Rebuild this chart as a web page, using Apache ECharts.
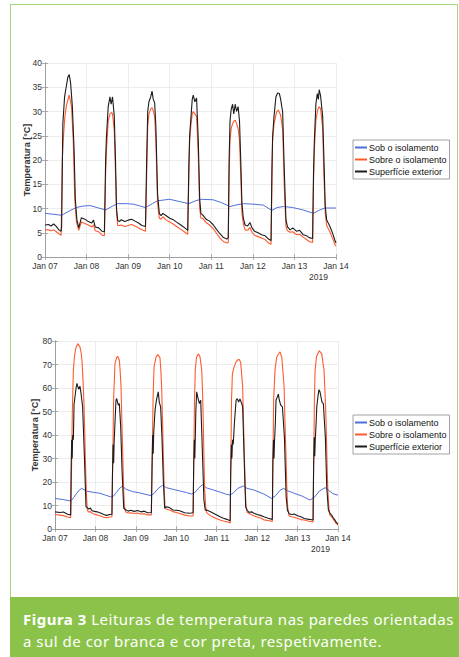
<!DOCTYPE html>
<html>
<head>
<meta charset="utf-8">
<script src="https://cdn.jsdelivr.net/npm/echarts@6/dist/echarts.min.js"></script>
<style>
  body { margin: 0; background: #fff; width: 459px; height: 657px; overflow: hidden; }
  #frame { position: absolute; left: 10px; top: 4px; width: 446px; height: 593px; border: 1.5px solid #a6d67a; border-bottom: none; }
  #chart { position: absolute; left: 0; top: 0; width: 459px; height: 657px; }
  #caption { position: absolute; left: 10px; top: 597px; width: 449px; height: 60px; background: #8bc34a; color: #fff;
             font-family: "Noto Sans", sans-serif; font-size: 15px; letter-spacing: 0.5px; line-height: 22px;
             padding: 11px 0 0 13px; box-sizing: border-box; white-space: nowrap; }
  #caption b { font-weight: 700; }
</style>
</head>
<body>
<div id="frame"></div>
<div id="chart"></div>
<div id="caption"><b>Figura 3</b> Leituras de temperatura nas paredes orientadas<br>a sul de cor branca e cor preta, respetivamente.</div>
<script>
// hours since Jan 07 00:00
var dayLabels = ['Jan 07', 'Jan 08', 'Jan 09', 'Jan 10', 'Jan 11', 'Jan 12', 'Jan 13', 'Jan 14'];
var yearLabel = '2019';
var seriesNames = ['Sob o isolamento', 'Sobre o isolamento', 'Superfície exterior'];

// parede branca (top)
var whiteSob = [[0,9.0],[5,8.8],[9.6,8.6],[13,9.3],[18,10.2],[22,10.5],[26,10.6],[31,10.1],[35,9.7],[39,10.5],[42,11.0],[47,11.0],
  [51,10.9],[55,10.5],[58,10.2],[62,11.0],[65,11.6],[72,11.9],[78,11.4],[83,11.0],[87,11.6],[90,11.9],[97,11.8],[102,11.2],
  [106.8,10.4],[110,10.7],[114.5,11.0],[120,10.9],[126,10.7],[131,9.6],[134,10.2],[137.6,10.4],[143,10.2],[149,9.7],[155,9.0],
  [158,9.6],[161.6,10.1],[168,10.1]];
var whiteSobre = [[0,5.6],[2,5.6],[3.5,5.4],[5,5.6],[6.5,5.2],[8,4.8],[9.3,4.5],
  [10,20],[10.5,24],[11.5,29],[12.4,31.3],[14,33.4],[15.3,31],[16.3,24],[17.2,11.8],[18.2,7.1],
  [19.5,5.5],[21,7.2],[23,6.9],[25,6.6],[27,6.2],[28,6.6],[29,5.4],[31,5.2],[33,4.5],[34.3,4.4],
  [35,17],[35.5,22],[36.5,28],[37.5,29.5],[38.5,29.8],[39,29.5],[40,26],[40.7,17],[41.3,9],[42,6.5],
  [43,6.5],[44,6.6],[46,6.3],[48,6.5],[50,6.7],[52,6.4],[54,6.0],[56,5.6],[58,5.3],
  [58.7,17],[59.3,27],[60,29.5],[61,30.5],[61.8,30.8],[62.5,30.2],[63.3,29],[64,24],[65,11],[66,8],
  [67,7.8],[68,8.3],[70,7.6],[72,7.2],[74,6.8],[76,6.3],[78,5.8],[80,5.3],[82.4,4.7],
  [83,16],[83.5,24],[84.3,27.5],[85,29.5],[85.6,30],[86.5,29.5],[87.5,29],[88.5,21],[89.3,10],[90,8.0],
  [91,8.0],[93,7.1],[95,6.6],[97,5.9],[99,4.9],[101,3.9],[103,3.2],[105,2.9],[105.8,3.0],
  [106.3,17],[106.8,24],[107.5,26.5],[108.3,27.5],[109,28],[109.8,28.2],[110.6,27.5],[111.5,26.5],[112.3,24],[113,17],[113.7,9],[114.5,6.8],
  [115.5,5.6],[117,5.5],[118.3,6.1],[119.5,5.1],[121,4.5],[123,4.2],[125,3.9],[127,3.6],[129,2.9],[130.5,2.6],
  [131,15],[131.4,24],[132.2,27.4],[133.7,29.9],[134.7,30.3],[136,29.3],[137.2,26.3],[138.2,13.8],[139.1,6.3],
  [140,5.4],[141.5,5.1],[143,5.2],[145.3,4.6],[147,4.7],[149,4.1],[151,3.6],[152.5,3.2],[154.5,3.0],
  [155,15],[155.5,22],[156.4,28.2],[157.4,30.3],[158.3,31.0],[159.1,30.6],[160.3,26.6],[161,17],[161.8,9],[162.6,6.5],
  [163.5,5.9],[164.5,5.2],[165.5,4.3],[166.4,3.5],[167.3,2.7],[168,2.2]];
var whiteExt = [[0,6.6],[2,6.7],[3.5,6.4],[5,6.8],[6.5,6.3],[8,5.6],[9.3,5.3],
  [9.6,6.3],[10.3,27.5],[11.3,33],[12.2,35],[13.2,37.1],[14,37.6],[14.8,35.8],[15.8,31],[16.8,22],[17.5,12],[18.4,7.7],
  [19.5,6.0],[21,8.1],[23,7.8],[25,7.3],[27,7.0],[28,7.6],[29,6.2],[31,6.0],[33,5.3],[34.3,5.2],
  [35,20],[35.5,25],[36.5,31],[37.5,33],[38.2,31.5],[39,33],[40,29],[40.7,20],[41.3,10],[42,7.5],
  [43,7.3],[44,7.7],[46,7.3],[48,7.6],[50,7.8],[52,7.4],[54,7.0],[56,6.5],[58,6.3],
  [58.7,20],[59.3,30],[60,32],[61,33],[61.8,34.2],[62.5,32.5],[63.3,31.8],[64,27],[65,13],[66,9],
  [67,8.5],[68,9.0],[70,8.5],[72,8.0],[74,7.7],[76,7.2],[78,6.7],[80,6.2],[82.4,5.5],
  [83,18],[83.5,25],[84.3,29],[85,32.5],[85.6,33.4],[86.5,32],[87.5,32.8],[88.5,24],[89.3,12],[90,9.0],
  [91,8.7],[93,7.8],[95,7.4],[97,6.7],[99,5.7],[101,4.8],[103,4.0],[105,3.7],[105.8,4.0],
  [106.3,20],[106.8,28],[107.5,30.5],[108.3,31.5],[109,29.5],[109.8,31.5],[110.6,30],[111.5,31],[112.3,28],[113,20],[113.7,11],[114.5,8.0],
  [115.5,6.6],[117,6.4],[118.3,7.1],[119.5,6.0],[121,5.3],[123,5.0],[125,4.6],[127,4.4],[129,3.7],[130.5,3.4],
  [131,18],[131.4,24.8],[132.2,28.9],[133.3,33],[134.3,33.8],[135.3,33.7],[136,32.6],[137.2,29.9],[138.2,17.3],[139.1,7.7],
  [140,6.2],[141.5,5.6],[143,6.0],[145.3,5.3],[147,5.5],[149,4.6],[151,4.4],[152.5,4.0],[154.5,3.8],
  [155,17],[155.5,24],[156.4,31.6],[157.2,33.7],[157.8,32.5],[158.3,34.5],[159.1,33.2],[160.3,29],[161,20.7],[161.8,10.4],[162.6,7.7],
  [163.5,7.0],[164.5,6.3],[165.5,5.4],[166.4,4.5],[167.3,3.5],[168,2.9]];

// parede preta (bottom)
var blackSob = [[0,13.0],[5,12.5],[9.5,11.9],[11,13.3],[12.9,15.2],[14.5,16.6],[15.8,17.3],[18.8,16.1],[22,15.7],[26.7,15.2],
  [30,14.4],[33,13.7],[34.5,13.8],[36.5,15.6],[38.5,17.4],[40,18.3],[42,17.0],[46,15.9],[50,15.4],[54,14.7],[57,14.2],
  [59,15.3],[61.5,17.4],[64,18.7],[66,17.6],[70,16.9],[74,16.2],[78,15.5],[81,14.9],[83,15.5],[85.5,17.6],[87.5,18.8],
  [90,17.5],[94,16.6],[98,15.7],[102,14.7],[104,14.5],[106,15.4],[108.5,17.3],[112,18.3],[114,17.3],[118,16.6],[124,14.9],
  [128.6,13.0],[131,14.2],[133.5,16.4],[135.6,17.3],[138,16.3],[142,15.2],[147,13.9],[151.4,12.3],[154,13.5],[157,16.2],
  [160.3,17.6],[162,16.7],[165,15.0],[168,14.4]];
var blackSobre = [[0,6.2],[3,5.9],[5,5.7],[7.5,5.1],[9.3,4.8],
  [9.8,25],[10.3,50],[10.9,67.6],[11.5,73],[12.3,76.8],[13.5,78.9],[14.8,77.5],[15.5,75],[16,71.8],[16.6,64],[17.2,53.4],[17.7,40],[18.2,25],[18.7,14],[19.2,8],
  [20,7.2],[21,7.4],[22,6.7],[23.5,6.3],[25,6.0],[27,5.5],[29,5.0],[30.5,4.8],[32,5.0],[33.8,5.2],
  [34.3,30],[34.8,55],[35.6,70.4],[36.6,73],[37.2,73.5],[38.2,71.8],[38.7,67],[39.2,60.5],[39.7,46],[40.2,32],[40.7,18],[41.2,9.5],
  [42,7.2],[43.5,6.8],[45,6.9],[47,6.6],[49,6.8],[51,6.4],[53,6.5],[55,6.0],[57.2,6.0],
  [57.7,30],[58.2,55],[58.8,69],[60,73.2],[61,74.2],[62.3,72.9],[62.8,68],[63.3,60.5],[63.8,47],[64.3,32],[64.8,18],[65.3,9.5],
  [66,8.5],[68,8.1],[70,7.4],[72,7.0],[74,6.6],[77,5.9],[80,5.5],[82,5.6],
  [82.4,30],[82.8,55],[83.3,68],[84,73],[85.1,74.6],[86.1,73.2],[87.1,67.6],[87.6,58],[88,46.3],[88.4,31],[88.8,18],[89.4,10],[90,7],
  [92,5.8],[94,5.0],[96,4.4],[98,3.8],[100,3.4],[102,3.1],[104,2.6],
  [104.4,30],[104.8,55],[105.3,66],[106.3,69],[107.5,71.1],[108.5,72],[109.4,72.1],[110.2,71],[110.8,66],[111.4,60.5],[111.9,46],[112.4,32],[112.9,18],[113.4,9.5],
  [114,7.2],[115,6.7],[117,5.9],[118,5.6],[120,5.1],[122,4.7],[124,3.9],[126.5,3.6],[129,3.2],
  [129.4,30],[129.8,55],[130.6,67.6],[131.6,73.2],[133.6,75.4],[134.6,73.2],[135.3,67],[136,60.5],[136.5,46],[137.1,32],[137.6,18],[138.1,9.5],
  [139,5.5],[140.5,5.2],[142,5.0],[144,4.5],[146,4.0],[148,3.8],[150,3.4],[153.2,3.0],
  [153.6,30],[154,55],[154.4,67.6],[155.3,73.5],[156.9,75.8],[158.3,74.6],[159.7,67.6],[160.3,58],[160.9,46.3],[161.4,31],[161.9,18],[162.4,11],[162.9,6.7],
  [163.2,5.9],[164.2,5.2],[165.2,4.2],[166.2,3.1],[167,2.3],[168,1.7]];
var blackExt = [[0,7.3],[3,7.0],[5,7.2],[7.5,6.3],[9.3,6.0],
  [9.6,26],[9.9,38],[10.2,30],[10.5,40],[10.9,38],[11.3,53],[12.5,60],[13,62],[14,59.5],[14.8,60.8],[15.4,58],[16.4,52],[17.4,32],[18.4,9.5],
  [19,9.2],[20,8.5],[21,8.9],[22,7.8],[23.5,7.5],[25,7.3],[27,6.8],[29,6.2],[30.5,5.8],[32,6.1],[33.8,6.3],
  [34.1,23],[34.5,36],[34.8,28],[35.1,37],[35.6,45],[36.2,54.8],[36.6,55.5],[37.6,52.7],[38.2,53.4],[39,43.5],[39.8,25],[40.8,8.8],
  [42,8.2],[43.5,7.6],[45,8.0],[47,7.5],[49,7.9],[51,7.3],[53,7.6],[55,6.9],[57.2,7.0],
  [57.6,26],[58,40],[58.3,32],[58.6,41],[59.4,50.6],[60.2,54.8],[61.3,58.4],[61.9,54],[62.7,52],[63.5,39],[64.3,20.8],[65.1,8.8],
  [66,9.5],[68,9.1],[70,8.1],[72,8.0],[74,7.8],[77,6.9],[80,6.7],[82,6.9],
  [82.3,26],[82.7,38],[83,30],[83.3,39],[83.6,50],[84.1,58.4],[84.8,56],[85.7,53.4],[86.5,54.8],[87.4,35],[88.4,12.3],[89.2,8],
  [90,8.1],[92,7.4],[94,6.7],[96,6.0],[98,5.2],[100,4.6],[102,4.1],[104,3.5],
  [104.3,24],[104.7,36],[105,30],[105.4,38],[105.8,36],[106.5,45],[107.5,54.8],[108.2,55.5],[109,54],[109.8,55.3],[110.8,53.5],[111.4,52],[112.2,32],[113.2,9.5],
  [114,8.2],[115,7.1],[117,7.3],[118,6.7],[120,6.2],[122,5.8],[124,5.2],[126.5,4.6],[129,4.1],
  [129.3,28],[129.7,38],[130,30],[130.3,37],[130.8,45],[131.2,54.8],[132.6,57.4],[133.1,55],[134,52.7],[135,52],[136.2,39],[137.2,13.7],[138,8],
  [139,6.5],[140.5,6.2],[142,6.4],[144,5.6],[146,5.2],[148,4.5],[150,4.2],[153.2,3.8],
  [153.5,26],[153.9,39],[154.2,31],[154.5,38],[155,45],[155.4,52],[156.2,57],[156.7,59.3],[157.3,58.4],[158.5,54],[159.3,53.4],[160.5,39],[161.3,18],[162.3,8.1],
  [163.2,6.8],[164.2,5.9],[165.2,4.8],[166.2,3.8],[167,2.8],[168,2.1]];

var colors = ['#4f6fdc', '#ff5a2e', '#1c1c1c'];

var chart = echarts.init(document.getElementById('chart'), null, { renderer: 'svg' });

var tickFont = { fontFamily: 'Liberation Sans, Arial', fontSize: 8.5, color: '#333' };
function xAxis(g, top) {
  return {
    type: 'value', gridIndex: g, min: 0, max: 168, interval: 24, position: top ? 'top' : 'bottom',
    axisLine: { show: true, lineStyle: { color: '#9a9a9a', width: 0.8 } },
    axisTick: { show: true, inside: true, length: 3, lineStyle: { color: '#9a9a9a', width: 0.8 } },
    axisLabel: Object.assign({ show: !top, margin: 4, formatter: function (v) { return dayLabels[v / 24]; } }, tickFont),
    splitLine: { show: !top, lineStyle: { color: '#e9e9e9', width: 0.8 } },
    name: top ? '' : yearLabel, nameLocation: 'end', nameGap: -8, nameMoveOverlap: false,
    nameTextStyle: Object.assign({ align: 'right', verticalAlign: 'top', padding: [15, 0, 0, 0] }, tickFont)
  };
}
function yAxis(g, max, step, right) {
  return {
    type: 'value', gridIndex: g, min: 0, max: max, interval: step, position: right ? 'right' : 'left',
    axisLine: { show: true, lineStyle: { color: '#9a9a9a', width: 0.8 } },
    axisTick: { show: true, inside: true, length: 3, lineStyle: { color: '#9a9a9a', width: 0.8 } },
    axisLabel: Object.assign({ show: !right, margin: 3 }, tickFont),
    splitLine: { show: !right, lineStyle: { color: '#e9e9e9', width: 0.8 } },
    name: right ? '' : 'Temperatura [°C]', nameLocation: 'middle', nameMoveOverlap: false,
    nameGap: right ? 0 : (max === 40 ? 14 : 16),
    nameTextStyle: { fontFamily: 'Liberation Sans, Arial', fontSize: 9, fontWeight: 'bold', color: '#333' }
  };
}
function line(name, data, idx, xi, yi, w) {
  return {
    name: name, type: 'line', data: data, xAxisIndex: xi, yAxisIndex: yi,
    showSymbol: false, symbol: 'none', animation: false,
    lineStyle: { color: colors[idx], width: w }, itemStyle: { color: colors[idx] }
  };
}
function legend(top) {
  return {
    data: seriesNames, orient: 'vertical', left: 353, top: top, itemWidth: 12, itemHeight: 2, itemGap: 3,
    icon: 'rect', padding: [3, 3, 3, 2], borderColor: '#8a8a8a', borderWidth: 0.8, backgroundColor: '#fff',
    textStyle: { fontFamily: 'Liberation Sans, Arial', fontSize: 9, color: '#111', padding: [0, 0, 0, -3] },
    selectedMode: false
  };
}

chart.setOption({
  animation: false,
  grid: [
    { left: 45, top: 63, width: 291, height: 194 },
    { left: 55, top: 341, width: 283, height: 188 }
  ],
  xAxis: [xAxis(0, false), xAxis(1, false), xAxis(0, true), xAxis(1, true)],
  yAxis: [yAxis(0, 40, 5, false), yAxis(1, 80, 10, false), yAxis(0, 40, 5, true), yAxis(1, 80, 10, true)],
  legend: [legend(140), legend(415)],
  series: [
    line(seriesNames[0], whiteSob, 0, 0, 0, 1),
    line(seriesNames[1], whiteSobre, 1, 0, 0, 1.1),
    line(seriesNames[2], whiteExt, 2, 0, 0, 1.1),
    line(seriesNames[0], blackSob, 0, 1, 1, 1),
    line(seriesNames[1], blackSobre, 1, 1, 1, 1.1),
    line(seriesNames[2], blackExt, 2, 1, 1, 1.1)
  ]
});
</script>
</body>
</html>
